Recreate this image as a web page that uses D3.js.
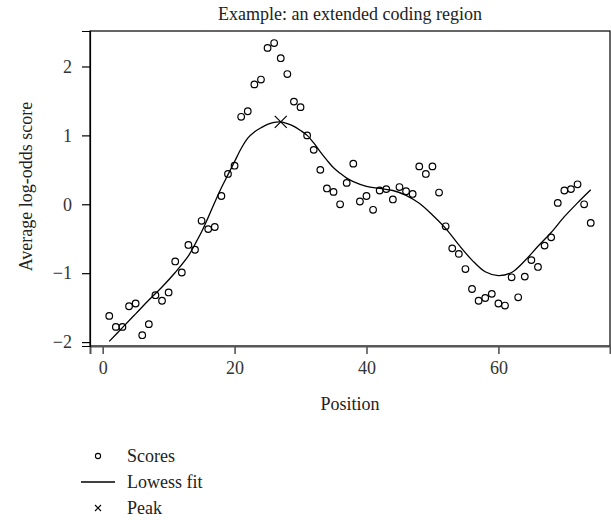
<!DOCTYPE html>
<html>
<head>
<meta charset="utf-8">
<script src="https://cdn.jsdelivr.net/npm/d3@7"></script>
<style>
  body { margin: 0; background: #fff; }
  text { font-family: "Liberation Serif", "DejaVu Serif", serif; }
</style>
</head>
<body>
<div id="plotDiv"></div>
<script>
// --- Data ---
const positions = d3.range(1, 75);
const scores = [
  -1.62, -1.78, -1.78, -1.48, -1.44, -1.90, -1.74, -1.32, -1.40, -1.28,
  -0.83, -0.99, -0.59, -0.66, -0.24, -0.36, -0.33, 0.12, 0.44, 0.56,
  1.27, 1.35, 1.74, 1.81, 2.27, 2.34, 2.12, 1.89, 1.49, 1.41,
  1.00, 0.79, 0.50, 0.23, 0.18, 0.00, 0.31, 0.59, 0.04, 0.12,
  -0.08, 0.20, 0.22, 0.07, 0.25, 0.19, 0.15, 0.55, 0.44, 0.55,
  0.17, -0.32, -0.64, -0.72, -0.94, -1.23, -1.40, -1.36, -1.30, -1.44,
  -1.47, -1.06, -1.35, -1.05, -0.81, -0.91, -0.60, -0.48, 0.02, 0.20,
  0.22, 0.29, 0.00, -0.27
];
const lowessX = [1, 3, 5, 7, 9, 11, 13, 14, 15, 16, 17, 18, 19, 20, 21, 22, 23, 24, 25, 26, 27,
  28, 29, 30, 31, 32, 33, 34, 35, 36, 37, 38, 40, 42, 44, 46, 48, 50, 52, 54, 56,
  58, 60, 62, 64, 66, 68, 70, 72, 74];
const lowessY = [-1.99, -1.79, -1.59, -1.39, -1.20, -0.99, -0.75, -0.58, -0.40, -0.19, 0.03,
  0.24, 0.43, 0.62, 0.81, 0.96, 1.05, 1.11, 1.16, 1.19, 1.195,
  1.17, 1.13, 1.07, 1.00, 0.89, 0.76, 0.64, 0.53, 0.45, 0.38,
  0.33, 0.26, 0.23, 0.20, 0.13, 0.015, -0.155, -0.35, -0.59, -0.81,
  -0.98, -1.035, -0.99, -0.82, -0.61, -0.41, -0.18, 0.02, 0.21];
const xTicks = [0, 20, 40, 60];
const yTicks = [-2, -1, 0, 1, 2];
const legendItems = ["Scores", "Lowess fit", "Peak"];

// --- SVG Setup ---
const width = 611, height = 520;
const plot = {left: 90, right: 610, top: 31, bottom: 346};
const fs = 18;

const svg = d3.select("#plotDiv")
  .append("svg")
  .attr("width", width)
  .attr("height", height);

const x = d3.scaleLinear().domain([-1.92, 76.92]).range([plot.left, plot.right]);
const y = d3.scaleLinear().domain([-2.057, 2.515]).range([plot.bottom, plot.top]);

// --- Frame ---
svg.append("rect")
  .attr("x", plot.left).attr("y", plot.top)
  .attr("width", plot.right - plot.left).attr("height", plot.bottom - plot.top)
  .attr("fill", "none").attr("stroke", "#000").attr("stroke-width", 1.2);

// --- Axes ---
const xAxis = svg.append("g")
  .attr("transform", `translate(0,${plot.bottom})`)
  .call(d3.axisBottom(x).tickValues(xTicks).tickSize(8).tickPadding(7).tickFormat(d3.format("d")));
xAxis.select(".domain").attr("stroke", "#555").attr("stroke-width", 2);
xAxis.selectAll(".tick line").attr("stroke", "#555").attr("stroke-width", 1.6);
xAxis.selectAll(".tick text")
  .attr("font-size", fs).attr("fill", "#333");

const yAxis = svg.append("g")
  .attr("transform", `translate(${plot.left},0)`)
  .call(d3.axisLeft(y).tickValues(yTicks).tickSize(8).tickPadding(10)
    .tickFormat(d => d < 0 ? "\u2212" + Math.abs(d) : d));
yAxis.select(".domain").attr("stroke", "#000").attr("stroke-width", 1.2);
yAxis.selectAll(".tick line").attr("stroke", "#000").attr("stroke-width", 1.2);
yAxis.selectAll(".tick text")
  .attr("font-size", fs).attr("fill", "#333");

// --- Labels ---
svg.append("text")
  .attr("x", (plot.left + plot.right) / 2).attr("y", 20)
  .attr("text-anchor", "middle").attr("font-size", fs).attr("fill", "#222")
  .text("Example: an extended coding region");

svg.append("text")
  .attr("x", (plot.left + plot.right) / 2).attr("y", 410)
  .attr("text-anchor", "middle").attr("font-size", fs).attr("fill", "#222")
  .text("Position");

svg.append("text")
  .attr("transform", `translate(32,${(plot.top + plot.bottom) / 2 - 2}) rotate(-90)`)
  .attr("text-anchor", "middle").attr("font-size", fs).attr("fill", "#222")
  .text("Average log-odds score");

// --- Lowess line ---
const line = d3.line()
  .x((d, i) => x(lowessX[i]))
  .y(d => y(d))
  .curve(d3.curveCatmullRom.alpha(0.5));
svg.append("path")
  .datum(lowessY)
  .attr("d", line)
  .attr("fill", "none").attr("stroke", "#000").attr("stroke-width", 1.3);

// --- Score points ---
svg.append("g").selectAll("circle")
  .data(scores)
  .join("circle")
  .attr("cx", (d, i) => x(positions[i]))
  .attr("cy", d => y(d))
  .attr("r", 3.3)
  .attr("fill", "none").attr("stroke", "#000").attr("stroke-width", 1.2);

// --- Peak marker ---
const pk = d3.maxIndex(lowessY);
const px = x(lowessX[pk]), py = y(lowessY[pk]);
const cross = (g, cx, cy, s, w) => {
  g.append("path")
    .attr("d", `M${cx - s},${cy - s}L${cx + s},${cy + s}M${cx - s},${cy + s}L${cx + s},${cy - s}`)
    .attr("stroke", "#000").attr("stroke-width", w).attr("fill", "none");
};
cross(svg, px, py, 6, 1.2);

// --- Legend ---
const lg = svg.append("g");
const lgY = [456, 482, 508];
lg.append("circle").attr("cx", 98).attr("cy", lgY[0]).attr("r", 2.6)
  .attr("fill", "none").attr("stroke", "#000").attr("stroke-width", 1.1);
lg.append("line").attr("x1", 81).attr("x2", 115).attr("y1", lgY[1]).attr("y2", lgY[1])
  .attr("stroke", "#000").attr("stroke-width", 1.3);
cross(lg, 98, lgY[2], 3, 1.1);
lg.selectAll("text")
  .data(legendItems)
  .join("text")
  .attr("x", 127)
  .attr("y", (d, i) => lgY[i] + 6)
  .attr("font-size", fs).attr("fill", "#222")
  .text(d => d);
</script>
</body>
</html>
